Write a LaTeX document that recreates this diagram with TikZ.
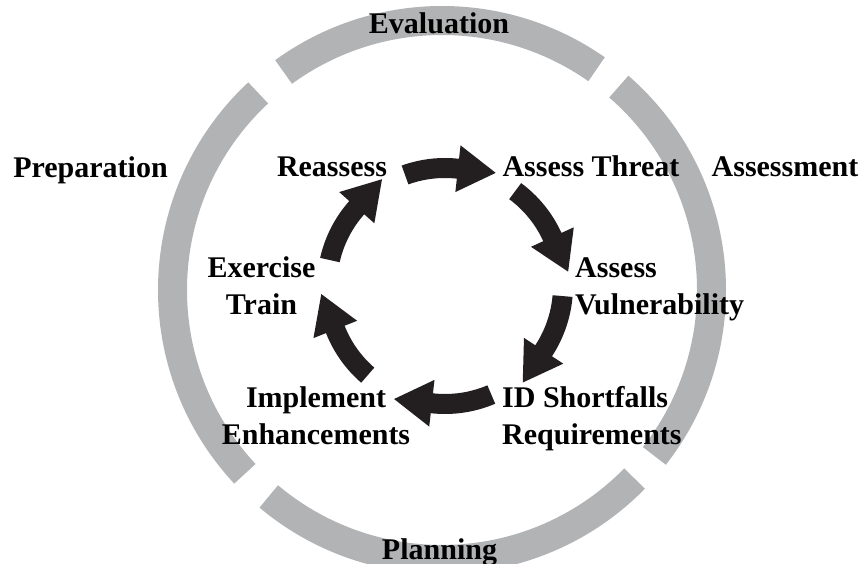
\documentclass[tikz,border=0pt]{standalone}
\usepackage{fontspec}
\setmainfont{Liberation Serif}
\usetikzlibrary{calc}
\definecolor{ringgray}{RGB}{178,179,181}
\definecolor{arrowblack}{RGB}{35,31,32}
\newcommand\cycarrow[2]{%
  \fill[cyc] ($(C)+(#1:128)$) arc[start angle=#1,end angle=#2,radius=128]
    -- ($(C)+(#2:141.5)$) -- ($(C)+(#2:118)+({#2-90}:38)$) -- ($(C)+(#2:94.5)$)
    -- ($(C)+(#2:108)$) arc[start angle=#2,end angle=#1,radius=108] -- cycle;}
\begin{document}
\begin{tikzpicture}[x=1pt,y=1pt,
  lbl/.style={font=\bfseries\fontsize{30}{37}\selectfont, inner sep=0pt, text=black},
  ring/.style={draw=ringgray, line width=29pt, line cap=butt},
  cyc/.style={fill=arrowblack, draw=none}]
\useasboundingbox (0,0) rectangle (862,564);
\coordinate (O) at (442,274);
\coordinate (C) at (445,278);
% outer ring
\draw[ring] ($(O)+(55:269.5)$) arc[start angle=55,end angle=126,radius=269.5];
\draw[ring] ($(O)+(133:269.5)$) arc[start angle=133,end angle=223,radius=269.5];
\draw[ring] ($(O)+(230:269.5)$) arc[start angle=230,end angle=315.6,radius=269.5];
\draw[ring] ($(O)+(-38:269.5)$) arc[start angle=-38,end angle=49,radius=269.5];
% inner cycle arrows
\cycarrow{109.8}{83.7}
\cycarrow{53.5}{24.5}
\cycarrow{-4.9}{-33.3}
\cycarrow{-66.9}{-96.4}
\cycarrow{-130.9}{-158.4}
\cycarrow{167.3}{138.4}
% labels
\node[lbl, anchor=base] (eval) at (439,530) {Evaluation};
\node[lbl, anchor=base] (prep) at (90.5,386) {Preparation};
\node[lbl, anchor=base] (assm) at (785,387) {Assessment};
\node[lbl, anchor=base] (plan) at (439.5,4) {Planning};
\node[lbl, anchor=base] (reas) at (332,387) {Reassess};
\node[lbl, anchor=base] (thr) at (591,387) {Assess Threat};
\node[lbl, anchor=base west, align=left] (vul) at (575,249) {Assess\\Vulnerability};
\node[lbl, anchor=base, align=center] (exe) at (261.5,249) {Exercise\\Train};
\node[lbl, anchor=base, align=center] (imp) at (316,119) {Implement\\Enhancements};
\node[lbl, anchor=base west, align=left] (sho) at (502,119) {ID Shortfalls\\Requirements};
\end{tikzpicture}
\end{document}
